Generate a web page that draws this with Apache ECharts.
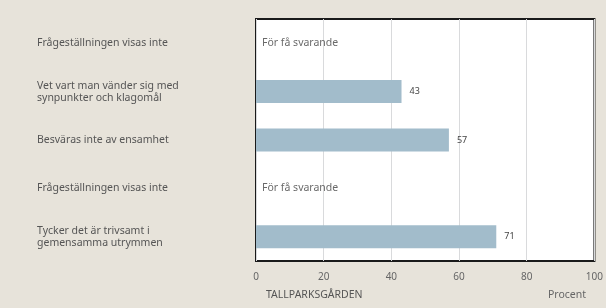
<!DOCTYPE html>
<html>
<head>
<meta charset="utf-8">
<script src="https://cdn.jsdelivr.net/npm/echarts@6/dist/echarts.min.js"></script>
<style>
  html, body { margin: 0; padding: 0; background: #e7e3da; }
  #chart { width: 606px; height: 308px; }
</style>
</head>
<body>
<div id="chart"></div>
<script>
// Data
const categories = [
  'Frågeställningen visas inte',
  'Vet vart man vänder sig med\nsynpunkter och klagomål',
  'Besväras inte av ensamhet',
  'Frågeställningen visas inte',
  'Tycker det är trivsamt i\ngemensamma utrymmen'
];
const values = [null, 43, 57, null, 71];
const notes = ['För få svarande', '', '', 'För få svarande', ''];
const xTicks = [0, 20, 40, 60, 80, 100];

const font = '"Noto Sans", Lato, sans-serif';
const chart = echarts.init(document.getElementById('chart'));

chart.setOption({
  backgroundColor: '#e7e3da',
  animation: false,
  grid: {
    left: 256,
    right: 11,
    top: 19,
    bottom: 47,
    show: true,
    backgroundColor: '#ffffff',
    borderColor: '#1a1a1a',
    borderWidth: 2
  },
  xAxis: {
    type: 'value',
    min: xTicks[0],
    max: xTicks[xTicks.length - 1],
    interval: 20,
    axisLine: { show: false },
    axisTick: { show: false },
    splitLine: { lineStyle: { color: '#d9dadc', width: 1 } },
    axisLabel: { color: '#666', fontFamily: font, fontSize: 10, margin: 11 }
  },
  yAxis: {
    type: 'category',
    inverse: true,
    data: categories,
    axisLine: { show: false },
    axisTick: { show: false },
    axisLabel: {
      align: 'left',
      margin: 219,
      color: '#555',
      fontFamily: font,
      fontSize: 10.5,
      lineHeight: 12
    }
  },
  series: [
    {
      type: 'bar',
      data: values,
      barWidth: 23,
      itemStyle: { color: '#a2bccb' },
      label: {
        show: true,
        position: 'right',
        distance: 8,
        color: '#444',
        fontFamily: font,
        fontSize: 9
      }
    },
    {
      type: 'scatter',
      symbolSize: 0,
      data: notes.map((n, i) => n ? { value: [0, i], note: n } : null).filter(Boolean),
      label: {
        show: true,
        position: 'right',
        distance: 6,
        color: '#444',
        fontFamily: font,
        fontSize: 10.5,
        formatter: p => p.data.note
      }
    }
  ],
  graphic: [
    {
      type: 'text', left: 266, top: 290,
      style: { text: 'TALLPARKSGÅRDEN', fill: '#555', font: '10.5px ' + font }
    },
    {
      type: 'text', left: 548, top: 290,
      style: { text: 'Procent', fill: '#666', font: '10.5px ' + font }
    }
  ]
});
</script>
</body>
</html>
